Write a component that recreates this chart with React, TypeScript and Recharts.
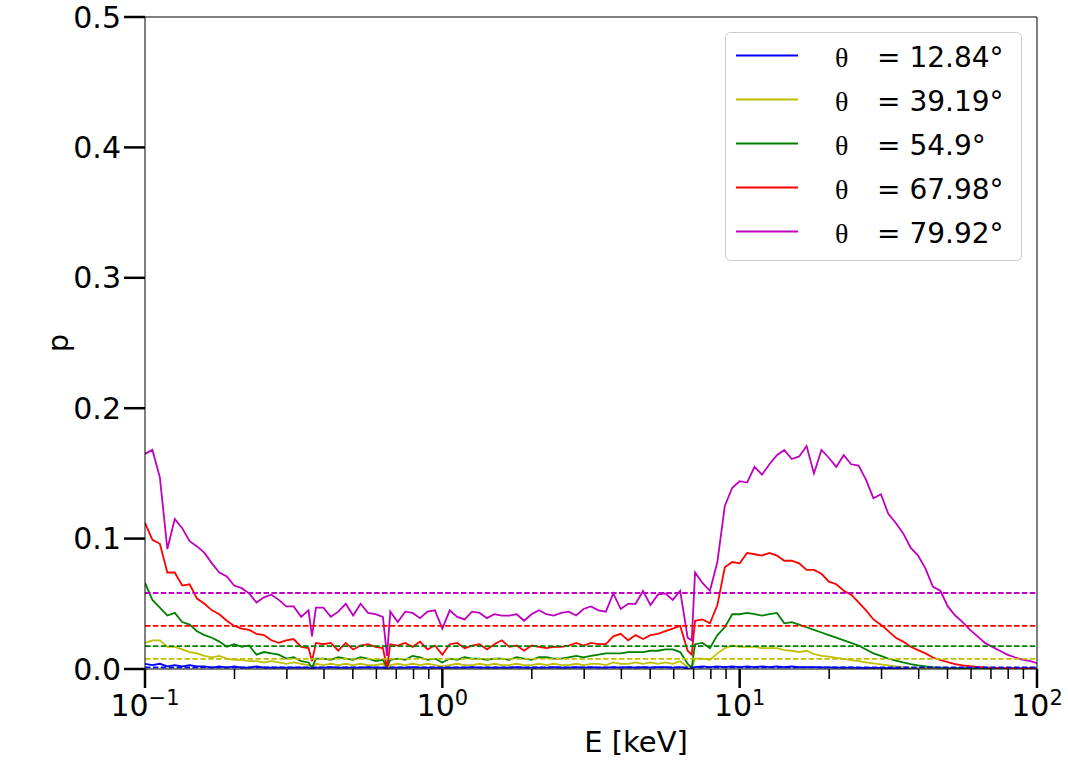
import React from "react"
import { LineChart, Line, XAxis, YAxis, ReferenceLine, Legend, Label } from "recharts"

// energy grid in keV (log spaced, with a few extra points at the absorption dips)
const energies = [
  0.1, 0.1059, 0.1122, 0.1189, 0.1259, 0.1334, 0.1413, 0.1496, 0.1585, 0.1679, 0.1778, 0.1884,
  0.1995, 0.2113, 0.2239, 0.2371, 0.2512, 0.2661, 0.2818, 0.2985, 0.3162, 0.335, 0.3548,
  0.3645,
  0.3758, 0.3981, 0.4217, 0.4467, 0.4732, 0.5012, 0.5309, 0.5623, 0.5957, 0.631,
  0.6516,
  0.6683, 0.7079, 0.7499, 0.7943, 0.8414, 0.8913, 0.9441,
  1.0, 1.059, 1.122, 1.189, 1.259, 1.334, 1.413, 1.496, 1.585, 1.679,
  1.778, 1.884, 1.995, 2.113, 2.239, 2.371, 2.512, 2.661, 2.818, 2.985,
  3.162, 3.35, 3.548, 3.758, 3.981, 4.217, 4.467, 4.732, 5.012, 5.309,
  5.623, 5.957, 6.31, 6.683,
  6.9,
  7.079, 7.499, 7.943, 8.414, 8.913, 9.441,
  10, 10.59, 11.22, 11.89, 12.59, 13.34, 14.13, 14.96, 15.85, 16.79,
  17.78, 18.84, 19.95, 21.13, 22.39, 23.71, 25.12, 26.61, 28.18, 29.85,
  31.62, 33.5, 35.48, 37.58, 39.81, 42.17, 44.67, 47.32, 50.12, 53.09,
  56.23, 59.57, 63.1, 66.83, 70.79, 74.99, 79.43, 84.14, 89.13, 94.41, 100,
]

const pBlue = [
  0.004, 0.003, 0.004, 0.002, 0.003, 0.002, 0.003, 0.002, 0.002, 0.001, 0.002, 0.001,
  0.002, 0.001, 0.001, 0.002, 0.001, 0.001, 0.001, 0.001, 0.001, 0.001, 0.001,
  0.0005,
  0.001, 0.001, 0.0015, 0.001, 0.001, 0.001, 0.001, 0.0015, 0.001, 0.001,
  0.0005,
  0.001, 0.001, 0.001, 0.0015, 0.001, 0.001, 0.001,
  0.001, 0.001, 0.001, 0.001, 0.0015, 0.001, 0.001, 0.001, 0.001, 0.001,
  0.0015, 0.001, 0.001, 0.001, 0.001, 0.0015, 0.001, 0.001, 0.0015, 0.001,
  0.0015, 0.001, 0.001, 0.0015, 0.001, 0.0015, 0.001, 0.0015, 0.001, 0.0015,
  0.0015, 0.001, 0.0015, 0.0005,
  0.0005,
  0.0015, 0.002, 0.0015, 0.002, 0.0015, 0.002,
  0.0015, 0.002, 0.0015, 0.002, 0.0015, 0.002, 0.0015, 0.002, 0.0015, 0.0015,
  0.0015, 0.0012, 0.0012, 0.001, 0.001, 0.001, 0.0009, 0.0009, 0.0008, 0.0008,
  0.0007, 0.0007, 0.0006, 0.0006, 0.0006, 0.0005, 0.0005, 0.0005, 0.0005, 0.0005,
  0.0004, 0.0004, 0.0004, 0.0004, 0.0004, 0.0004, 0.0004, 0.0004, 0.0004, 0.0004, 0.0004,
]

const pYellow = [
  0.02, 0.022, 0.022, 0.017, 0.017, 0.015, 0.013, 0.012, 0.01, 0.009, 0.01, 0.008,
  0.007, 0.007, 0.006, 0.006, 0.005, 0.006, 0.005, 0.004, 0.005, 0.004, 0.003,
  0.001,
  0.004, 0.003, 0.004, 0.003, 0.004, 0.003, 0.004, 0.003, 0.003, 0.004,
  0.001,
  0.003, 0.004, 0.003, 0.004, 0.003, 0.004, 0.003,
  0.002, 0.003, 0.004, 0.003, 0.003, 0.004, 0.003, 0.004, 0.003, 0.003,
  0.004, 0.003, 0.003, 0.004, 0.003, 0.004, 0.003, 0.003, 0.004, 0.003,
  0.004, 0.004, 0.003, 0.005, 0.004, 0.004, 0.005, 0.004, 0.005, 0.004,
  0.005, 0.004, 0.006, 0.0015,
  0.001,
  0.008, 0.008, 0.007, 0.012, 0.016, 0.018,
  0.017, 0.017, 0.017, 0.016, 0.016, 0.016, 0.0145, 0.014, 0.013, 0.014,
  0.0115, 0.01, 0.0095, 0.0085, 0.0078, 0.0068, 0.006, 0.005, 0.0043, 0.0035,
  0.0028, 0.002, 0.0015, 0.0011, 0.0008, 0.0006, 0.0005, 0.0005, 0.0004, 0.0004,
  0.0003, 0.0003, 0.0003, 0.0002, 0.0002, 0.0002, 0.0002, 0.0002, 0.0001, 0.0001, 0.0001,
]

const pGreen = [
  0.066, 0.053, 0.047, 0.041, 0.043, 0.036, 0.034, 0.029, 0.026, 0.024, 0.021, 0.017,
  0.019, 0.017, 0.018, 0.011, 0.013, 0.012, 0.011, 0.008, 0.009, 0.006, 0.005,
  0.001,
  0.008, 0.008, 0.007, 0.009, 0.008, 0.007, 0.009, 0.008, 0.006, 0.007,
  0.001,
  0.007, 0.008, 0.007, 0.01, 0.009, 0.007, 0.008,
  0.005, 0.008, 0.007, 0.009, 0.008, 0.008, 0.007, 0.008, 0.008, 0.007,
  0.009, 0.008, 0.007, 0.009, 0.009, 0.008, 0.008, 0.009, 0.01, 0.009,
  0.01, 0.011, 0.012, 0.012, 0.012, 0.013, 0.013, 0.013, 0.014, 0.014,
  0.015, 0.015, 0.013, 0.004,
  0.001,
  0.019, 0.02, 0.016, 0.026, 0.032, 0.042,
  0.042, 0.043, 0.042, 0.041, 0.042, 0.043, 0.035, 0.036, 0.034, 0.032,
  0.03, 0.028, 0.026, 0.024, 0.022, 0.02, 0.018, 0.015, 0.012, 0.01,
  0.008, 0.0065, 0.005, 0.0038, 0.0028, 0.002, 0.0014, 0.0011, 0.0008, 0.0007,
  0.0006, 0.0005, 0.0005, 0.0004, 0.0004, 0.0003, 0.0003, 0.0003, 0.0002, 0.0002, 0.0002,
]

const pRed = [
  0.112, 0.099, 0.096, 0.074, 0.074, 0.064, 0.065, 0.054, 0.05, 0.045, 0.042, 0.037,
  0.033, 0.031, 0.03, 0.027, 0.026, 0.022, 0.02, 0.022, 0.023, 0.017, 0.016,
  0.006,
  0.02, 0.019, 0.02, 0.014, 0.02, 0.015, 0.018, 0.019, 0.017, 0.016,
  0.001,
  0.019, 0.018, 0.02, 0.017, 0.021, 0.015, 0.018,
  0.011, 0.019, 0.02, 0.016, 0.018, 0.019, 0.015, 0.019, 0.022, 0.017,
  0.018, 0.014, 0.018, 0.017, 0.016, 0.017, 0.017, 0.018, 0.02, 0.018,
  0.02, 0.019, 0.019, 0.025, 0.027, 0.022, 0.026, 0.023, 0.026, 0.027,
  0.029, 0.031, 0.033, 0.014,
  0.011,
  0.037, 0.038, 0.035, 0.049, 0.078, 0.082,
  0.081, 0.089, 0.088, 0.087, 0.089, 0.087, 0.083, 0.083, 0.081, 0.076,
  0.076, 0.073, 0.067, 0.065, 0.06, 0.057, 0.051, 0.045, 0.038, 0.034,
  0.029, 0.024, 0.021, 0.017, 0.0145, 0.012, 0.0088, 0.0069, 0.0052, 0.0038,
  0.0028, 0.0021, 0.0016, 0.0012, 0.001, 0.0008, 0.0007, 0.0006, 0.0005, 0.0005, 0.0004,
]

const pMagenta = [
  0.165, 0.168, 0.147, 0.092, 0.115, 0.108, 0.098, 0.094, 0.089, 0.081, 0.074, 0.071,
  0.064, 0.062, 0.058, 0.051, 0.055, 0.057, 0.053, 0.048, 0.048, 0.04, 0.045,
  0.025,
  0.047, 0.047, 0.04, 0.044, 0.05, 0.041, 0.05, 0.043, 0.042, 0.04,
  0.01,
  0.044, 0.036, 0.044, 0.043, 0.039, 0.044, 0.045,
  0.031, 0.045, 0.04, 0.038, 0.044, 0.043, 0.039, 0.042, 0.041, 0.041,
  0.042, 0.037, 0.042, 0.045, 0.042, 0.041, 0.043, 0.044, 0.041, 0.046,
  0.048, 0.045, 0.044, 0.058, 0.046, 0.05, 0.05, 0.06, 0.049, 0.057,
  0.058, 0.053, 0.06, 0.024,
  0.022,
  0.074, 0.066, 0.06, 0.082, 0.125, 0.139,
  0.144, 0.143, 0.155, 0.149, 0.157, 0.164, 0.168, 0.161, 0.163, 0.171,
  0.15, 0.168, 0.162, 0.155, 0.164, 0.157, 0.156, 0.145, 0.131, 0.134,
  0.119, 0.112, 0.104, 0.093, 0.087, 0.077, 0.063, 0.06, 0.048, 0.041,
  0.036, 0.03, 0.025, 0.02, 0.017, 0.014, 0.011, 0.009, 0.0072, 0.0062, 0.0045,
]

// mean polarisation per angle (dashed lines)
const meanP = { b: 0.0012, y: 0.0077, g: 0.0176, r: 0.033, m: 0.0583 }

const angles = ["12.84", "39.19", "54.9", "67.98", "79.92"]
const seriesKeys = ["b", "y", "g", "r", "m"] as const
const colors = { b: "#0000ff", y: "#bfbf00", g: "#008000", r: "#ff0000", m: "#bf00bf" }

const majorTicks = [0.1, 1, 10, 100]
const majorExp = ["\u22121", "0", "1", "2"]
const minorTicks = [
  0.2, 0.3, 0.4, 0.5, 0.6, 0.7, 0.8, 0.9,
  2, 3, 4, 5, 6, 7, 8, 9,
  20, 30, 40, 50, 60, 70, 80, 90,
]
const yTicks = [0, 0.1, 0.2, 0.3, 0.4, 0.5]

const rows = energies.map((e, i) => ({
  e,
  b: pBlue[i],
  y: pYellow[i],
  g: pGreen[i],
  r: pRed[i],
  m: pMagenta[i],
}))

const FONT = "DejaVu Sans"

function EnergyTick(props: any) {
  const { x, y, payload } = props
  const idx = majorTicks.indexOf(payload.value)
  const major = idx >= 0
  return (
    <g>
      <line x1={x} x2={x} y1={y} y2={y + (major ? 19 : 10)} stroke="#000" strokeWidth={major ? 2.5 : 1.5} />
      {major && (
        <text x={x} y={y + 47} textAnchor="middle" fontSize={30} fontFamily={FONT} fill="#000">
          10
          <tspan dy={-11} fontSize={21}>
            {majorExp[idx]}
          </tspan>
        </text>
      )}
    </g>
  )
}

function AngleLegend() {
  return (
    <svg width={298} height={230}>
      <rect x={0.5} y={0.5} width={296} height={228} rx={5} fill="#fff" fillOpacity={0.8} stroke="#cccccc" />
      {seriesKeys.map((k, i) => (
        <g key={k} transform={`translate(0, ${23.5 + i * 44})`}>
          <line x1={11} x2={73} y1={0} y2={0} stroke={colors[k]} strokeWidth={1.8} />
          <text x={110} y={11} fontSize={28} fontFamily="Liberation Serif" fill="#000">
            θ
          </text>
          <text x={152} y={11} fontSize={28} fontFamily={FONT} fill="#000">
            = {angles[i]}°
          </text>
        </g>
      ))}
    </svg>
  )
}

export default function App() {
  return (
    <div style={{ position: "absolute", left: 0, top: 0, width: 1068, height: 777, background: "#fff" }}>
      <LineChart width={1068} height={777} data={rows} margin={{ top: 17, right: 31, bottom: 0, left: 0 }}>
        <XAxis
          dataKey="e"
          type="number"
          scale="log"
          domain={[0.1, 100]}
          allowDataOverflow
          ticks={[...majorTicks, ...minorTicks]}
          interval={0}
          tick={<EnergyTick />}
          tickLine={false}
          tickSize={0}
          tickMargin={0}
          axisLine={{ stroke: "#000", strokeWidth: 1 }}
          height={108}
        >
          <Label
            content={({ viewBox }: any) => (
              <text
                x={viewBox.x + viewBox.width / 2 + 45}
                y={viewBox.y + 83}
                textAnchor="middle"
                fontSize={29}
                fontFamily={FONT}
                fill="#000"
              >
                E [keV]
              </text>
            )}
          />
        </XAxis>
        <YAxis
          type="number"
          domain={[0, 0.5]}
          allowDataOverflow
          ticks={yTicks}
          interval={0}
          tickFormatter={(v) => v.toFixed(1)}
          tick={{ fontSize: 30, fill: "#000", fontFamily: FONT }}
          tickLine={{ stroke: "#000", strokeWidth: 2.5 }}
          tickSize={21}
          tickMargin={3}
          axisLine={{ stroke: "#000", strokeWidth: 1 }}
          width={145}
        >
          <Label
            content={({ viewBox }: any) => {
              const cx = viewBox.x + 58
              const cy = viewBox.y + viewBox.height / 2
              return (
                <text
                  x={cx}
                  y={cy}
                  transform={`rotate(-90 ${cx} ${cy})`}
                  textAnchor="middle"
                  dominantBaseline="central"
                  fontSize={29}
                  fontFamily={FONT}
                  fill="#000"
                >
                  p
                </text>
              )
            }}
          />
        </YAxis>

        {seriesKeys.map((k) => (
          <Line
            key={k}
            dataKey={k}
            stroke={colors[k]}
            strokeWidth={1.8}
            dot={false}
            activeDot={false}
            isAnimationActive={false}
          />
        ))}
        {seriesKeys.map((k) => (
          <ReferenceLine key={"mean-" + k} y={meanP[k]} stroke={colors[k]} strokeWidth={1.8} strokeDasharray="5.5 2.4" />
        ))}

        {/* top and right spines */}
        <ReferenceLine y={0.5} stroke="#000" strokeWidth={1} />
        <ReferenceLine x={100} stroke="#000" strokeWidth={1} />

        <Legend
          layout="vertical"
          align="center"
          verticalAlign="middle"
          content={() => <AngleLegend />}
          wrapperStyle={{ position: "absolute", left: 725, top: 32, width: 298, height: 230 }}
        />
      </LineChart>
    </div>
  )
}
